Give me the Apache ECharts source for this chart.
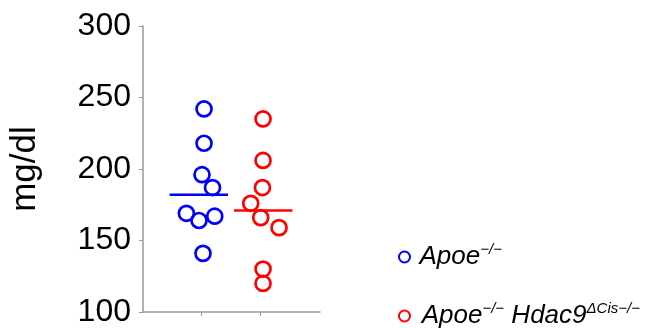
<!DOCTYPE html>
<html>
<head>
<meta charset="utf-8">
<script src="https://cdn.jsdelivr.net/npm/echarts@6/dist/echarts.min.js"></script>
<style>
html,body{margin:0;padding:0;background:#fff;}
#c{width:645px;height:328px;}
</style>
</head>
<body>
<div id="c"></div>
<script>
// Data
var groups = ['Apoe−/−', 'Apoe−/− Hdac9ΔCis−/−'];
var groupPos = [1, 2];               // x-axis positions of the two groups
var yTicks = [100, 150, 200, 250, 300];
var blueX = [1.045, 1.045, 1.01, 1.19, 0.743, 0.959, 1.228, 1.027];
var blueY = [242, 218, 196, 187, 169, 164, 167, 141];
var redX  = [2.055, 2.055, 2.045, 1.844, 2.015, 2.329, 2.055, 2.055];
var redY  = [235, 206, 187, 176, 166, 159, 130, 120];
var means = [182, 171];
var meanHalfWidth = 0.5;
var meanCenter = [0.956, 2.058];

var BLUE = '#0000ff', RED = '#ff0000';
var FONT = 'Liberation Sans, Arial, sans-serif';

function pairs(xs, ys) { return xs.map(function (x, i) { return [x, ys[i]]; }); }
function meanLine(i) {
  return [[meanCenter[i] - meanHalfWidth, means[i]], [meanCenter[i] + meanHalfWidth, means[i]]];
}
var rich = {
  i: {fontSize: 26, fontStyle: 'italic', color: '#000', fontFamily: FONT, lineHeight: 30, verticalAlign: 'middle'},
  s: {fontSize: 15, fontStyle: 'italic', color: '#000', fontFamily: FONT, lineHeight: 15, verticalAlign: 'top'},
  g: {fontSize: 8, lineHeight: 30}
};
function legendFor(idx, top) {
  return {
    orient: 'vertical', left: 393, top: top, itemWidth: 20, itemHeight: 11,
    icon: 'circle', data: [groups[idx]],
    itemStyle: {borderWidth: 2},
    formatter: function (name) {
      if (name === groups[0]) return '{i|Apoe}{s|−/−}';
      return '{g| }{i|Apoe}{s|−/−}{i| Hdac9}{s|ΔCis−/−}';
    },
    textStyle: {fontFamily: FONT, rich: rich}
  };
}

var chart = echarts.init(document.getElementById('c'), null, {renderer: 'canvas'});
chart.setOption({
  animation: false,
  backgroundColor: '#fff',
  grid: {left: 143, top: 26, width: 177, height: 292, containLabel: false},
  xAxis: {
    type: 'value', min: 0, max: 3.03,
    axisLine: {show: true, lineStyle: {color: '#999', width: 1.5}},
    axisTick: {show: true, length: 4, customValues: groupPos, lineStyle: {color: '#999', width: 1}},
    axisLabel: {show: false},
    splitLine: {show: false}
  },
  yAxis: {
    type: 'value', min: yTicks[0], max: yTicks[yTicks.length - 1], interval: 50,
    name: 'mg/dl', nameLocation: 'middle', nameRotate: 90, nameGap: 100,
    nameTextStyle: {fontSize: 35, color: '#000', fontFamily: FONT},
    axisLine: {show: true, lineStyle: {color: '#999', width: 1.5}},
    axisTick: {show: true, length: 4, lineStyle: {color: '#999', width: 1}},
    axisLabel: {fontSize: 32, color: '#000', fontFamily: FONT, margin: 12},
    splitLine: {show: false}
  },
  legend: [legendFor(0, 237), legendFor(1, 296)],
  series: [
    {
      name: groups[0], type: 'scatter', symbol: 'circle', symbolSize: 15,
      itemStyle: {color: 'rgba(0,0,0,0)', borderColor: BLUE, borderWidth: 2.7, opacity: 1},
      data: pairs(blueX, blueY), z: 3
    },
    {
      name: groups[1], type: 'scatter', symbol: 'circle', symbolSize: 15,
      itemStyle: {color: 'rgba(0,0,0,0)', borderColor: RED, borderWidth: 2.7, opacity: 1},
      data: pairs(redX, redY), z: 3
    },
    {
      type: 'line', data: meanLine(0), symbol: 'none', silent: true,
      lineStyle: {color: BLUE, width: 2.5}, z: 2
    },
    {
      type: 'line', data: meanLine(1), symbol: 'none', silent: true,
      lineStyle: {color: RED, width: 2.5}, z: 2
    }
  ]
});
</script>
</body>
</html>
